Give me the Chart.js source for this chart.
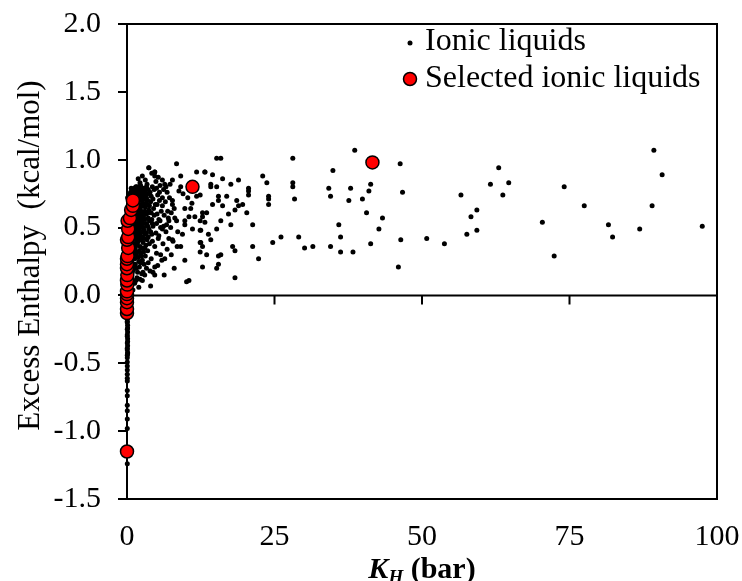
<!DOCTYPE html>
<html>
<head>
<meta charset="utf-8">
<title>Excess enthalpy vs Henry constant</title>
<script src="https://cdn.jsdelivr.net/npm/chart.js@4.4.1/dist/chart.umd.min.js"></script>
<style>
  html, body { margin: 0; padding: 0; background: #fff; }
  #wrap { width: 742px; height: 581px; }
</style>
</head>
<body>
<div id="wrap"><canvas id="grafico" width="742" height="581"></canvas></div>
<script>
// KH (bar) , excess enthalpy (kcal/mol) for every ionic liquid
const ionicLiquids = [
  // near KH = 0, negative branch
  [0.05, -0.02], [0.1, -0.06], [0.05, -0.09], [0.1, -0.12], [0.05, -0.15], [0.1, -0.17],
  [0.05, -0.2], [0.1, -0.22], [0.05, -0.25], [0.1, -0.27], [0.05, -0.3], [0.1, -0.32],
  [0.05, -0.35], [0.1, -0.37], [0.05, -0.4], [0.1, -0.43], [0.05, -0.46], [0.05, -0.49],
  [0.05, -0.55], [0.05, -0.61], [0.05, -0.63], [0.05, -0.7], [0.05, -0.74], [0.05, -0.81],
  [0.05, -0.85], [0.05, -0.91], [0.05, -0.98], [0.05, -1.24],
  [0.05, -0.04], [0.1, -0.08], [0.05, -0.11], [0.1, -0.14], [0.05, -0.19], [0.1, -0.24],
  [0.05, -0.29], [0.1, -0.34], [0.05, -0.39], [0.1, -0.42], [0.05, -0.44], [0.05, -0.52], [0.05, -0.58],
  [0.1, 0.72], [0.2, 0.6], [0.1, 0.5], [0.2, 0.38], [0.1, 0.25], [0.2, 0.18], [0.1, 0.1], [0.2, 0.04],
  // dense cluster, KH < 8 bar
  [1.9, 0.86], [2.6, 0.88], [3.1, 0.85], [3.7, 0.94], [4.2, 0.9], [4.7, 0.91], [5.3, 0.87],
  [2.2, 0.83], [3.4, 0.82], [4.9, 0.84], [1.5, 0.8],
  [0.6, 0.76], [0.9, 0.78], [1.2, 0.79], [1.4, 0.77], [1.7, 0.8], [2.0, 0.78], [2.3, 0.81],
  [2.5, 0.76], [2.8, 0.79], [3.0, 0.77], [3.3, 0.8], [3.6, 0.78], [3.9, 0.76], [4.3, 0.8],
  [4.6, 0.78], [5.0, 0.79], [5.6, 0.81], [6.2, 0.78], [0.4, 0.74], [1.1, 0.75], [1.9, 0.74],
  [2.7, 0.73], [3.5, 0.75], [4.1, 0.73], [5.2, 0.74], [6.8, 0.76],
  [0.7, 0.79], [1.0, 0.77], [1.3, 0.76], [1.6, 0.78], [1.8, 0.76], [2.1, 0.79], [2.4, 0.77],
  [2.9, 0.75], [3.2, 0.78], [0.9, 0.74], [1.5, 0.72], [2.0, 0.71], [2.5, 0.73], [3.0, 0.73],
  [3.3, 0.72], [0.6, 0.71], [1.2, 0.72], [1.7, 0.74], [2.2, 0.75], [2.8, 0.71],
  [0.3, 0.7], [0.5, 0.68], [0.8, 0.72], [1.0, 0.66], [1.3, 0.71], [1.6, 0.69], [1.8, 0.72],
  [2.1, 0.67], [2.4, 0.7], [2.6, 0.66], [2.9, 0.71], [3.2, 0.68], [3.5, 0.7], [3.8, 0.66],
  [4.0, 0.69], [4.4, 0.71], [4.8, 0.67], [5.5, 0.7], [6.0, 0.66], [6.5, 0.69], [7.2, 0.72],
  [0.7, 0.65], [1.5, 0.64], [2.2, 0.63], [3.0, 0.62], [4.5, 0.64], [5.8, 0.62],
  [0.6, 0.66], [0.9, 0.69], [1.1, 0.64], [1.4, 0.67], [1.7, 0.65], [1.9, 0.68], [2.3, 0.65],
  [2.7, 0.68], [3.1, 0.65], [3.4, 0.67], [0.5, 0.63], [0.8, 0.61], [1.3, 0.62], [1.6, 0.6],
  [2.0, 0.61], [2.4, 0.62], [2.9, 0.6], [3.7, 0.63], [4.1, 0.61], [1.0, 0.6],
  [0.4, 0.61], [0.6, 0.58], [0.9, 0.62], [1.1, 0.6], [1.4, 0.57], [1.7, 0.61], [1.9, 0.59],
  [2.3, 0.56], [2.5, 0.6], [2.8, 0.58], [3.3, 0.6], [3.6, 0.57], [3.9, 0.61], [4.2, 0.56],
  [4.6, 0.59], [5.1, 0.6], [5.4, 0.56], [6.3, 0.59], [7.0, 0.57], [7.5, 0.61], [1.2, 0.55],
  [2.0, 0.54], [2.7, 0.53], [3.4, 0.52], [5.0, 0.53],
  [0.7, 0.57], [1.0, 0.55], [1.3, 0.58], [1.5, 0.53], [1.8, 0.56], [2.2, 0.58], [2.5, 0.55],
  [3.0, 0.56], [3.2, 0.53], [3.8, 0.55], [0.6, 0.54], [0.9, 0.52], [1.4, 0.5], [1.9, 0.51],
  [2.3, 0.52], [2.8, 0.5], [3.5, 0.51], [4.3, 0.53],
  [0.5, 0.52], [0.8, 0.5], [1.0, 0.47], [1.3, 0.51], [1.6, 0.48], [1.8, 0.52], [2.1, 0.46],
  [2.4, 0.5], [2.9, 0.48], [3.1, 0.45], [3.7, 0.49], [4.0, 0.47], [4.4, 0.51], [4.9, 0.46],
  [5.7, 0.5], [6.6, 0.47], [7.4, 0.5], [0.7, 0.45], [1.5, 0.44], [2.6, 0.43],
  [0.6, 0.48], [0.9, 0.46], [1.1, 0.49], [1.4, 0.47], [1.7, 0.45], [2.0, 0.48], [2.3, 0.44],
  [2.6, 0.47], [3.3, 0.46], [3.6, 0.43], [4.2, 0.45], [0.8, 0.42], [1.1, 0.43], [1.9, 0.42],
  [2.4, 0.41], [2.9, 0.42], [1.6, 0.41],
  [0.4, 0.42], [0.9, 0.4], [1.2, 0.38], [1.4, 0.43], [1.7, 0.37], [2.0, 0.41], [2.2, 0.36],
  [2.7, 0.39], [3.0, 0.35], [3.4, 0.41], [3.8, 0.38], [4.3, 0.4], [4.7, 0.36], [5.3, 0.42],
  [6.1, 0.38], [7.8, 0.4], [8.5, 0.36],
  [0.7, 0.38], [1.0, 0.36], [1.4, 0.35], [1.8, 0.39], [2.1, 0.33], [2.5, 0.35], [2.8, 0.32],
  [3.2, 0.37], [1.2, 0.33], [0.5, 0.35],
  [0.6, 0.33], [1.0, 0.3], [1.3, 0.27], [1.6, 0.32], [1.9, 0.28], [2.3, 0.31], [2.6, 0.26],
  [3.1, 0.29], [3.5, 0.33], [4.1, 0.27], [5.0, 0.31], [5.9, 0.26], [0.8, 0.25],
  [1.6, 0.3], [2.4, 0.29], [2.0, 0.25], [1.2, 0.22], [1.6, 0.2], [2.9, 0.23], [3.6, 0.24],
  [0.7, 0.22], [1.1, 0.19], [1.4, 0.23], [1.8, 0.17], [2.1, 0.21], [2.5, 0.16], [3.3, 0.2],
  [3.9, 0.18], [0.5, 0.16], [0.9, 0.17],
  [0.9, 0.12], [1.3, 0.09], [1.7, 0.13], [2.0, 0.06], [1.0, 0.04], [0.6, 0.08], [2.6, 0.11],
  [2.2, 0.12], [1.5, 0.11],
  // 2 - 13 bar
  [8.4, 0.97], [3.7, 0.94], [4.7, 0.91], [4.7, 0.88], [9.1, 0.88], [11.8, 0.91], [13.2, 0.91],
  [6.0, 0.85], [6.4, 0.82], [7.7, 0.85], [9.1, 0.8], [8.8, 0.77], [11.8, 0.73],
  [7.7, 0.7], [7.7, 0.67], [8.0, 0.64], [9.8, 0.64], [10.8, 0.64], [10.5, 0.58], [9.8, 0.55],
  [9.8, 0.52], [11.5, 0.58], [12.8, 0.61], [8.1, 0.57], [8.4, 0.55], [6.7, 0.52], [6.0, 0.49],
  [11.1, 0.49], [12.5, 0.48], [7.1, 0.42], [7.7, 0.41], [9.1, 0.36], [12.5, 0.39], [12.8, 0.36],
  [5.7, 0.3], [6.4, 0.27], [9.8, 0.26], [4.7, 0.21], [4.4, 0.17], [4.7, 0.15], [2.7, 0.17],
  [3.0, 0.15], [10.5, 0.11], [10.1, 0.1], [4.0, 0.07], [2.3, 0.24],
  [5.5, 0.76], [6.6, 0.8], [7.3, 0.82], [6.0, 0.72], [5.1, 0.67], [6.9, 0.62], [5.6, 0.55],
  [6.2, 0.51], [7.1, 0.55], [8.6, 0.47], [9.4, 0.45], [5.4, 0.44], [6.8, 0.34], [7.5, 0.3],
  [5.2, 0.22], [8.0, 0.2], [6.3, 0.15], [10.3, 0.72], [11.0, 0.68], [9.5, 0.75],
  // 12 - 30 bar
  [15.2, 1.01], [15.9, 1.01], [13.2, 0.91], [14.5, 0.89], [16.2, 0.86], [14.2, 0.82], [14.2, 0.8],
  [15.2, 0.8], [17.6, 0.82], [18.9, 0.85], [12.4, 0.74], [15.5, 0.73], [15.5, 0.7], [16.9, 0.73],
  [14.5, 0.67], [16.2, 0.66], [18.6, 0.7], [18.9, 0.66], [19.6, 0.67], [18.3, 0.63], [17.2, 0.6],
  [20.3, 0.61], [20.6, 0.79], [20.6, 0.77], [20.6, 0.74], [23.0, 0.88], [23.7, 0.83], [24.0, 0.73],
  [24.0, 0.71], [24.0, 0.67], [28.1, 1.01], [28.1, 0.83], [28.1, 0.8], [28.4, 0.71],
  [13.5, 0.61], [12.8, 0.58], [12.4, 0.55], [13.2, 0.54], [15.9, 0.55], [17.6, 0.52], [21.3, 0.52],
  [15.2, 0.49], [12.4, 0.48], [13.8, 0.45], [12.4, 0.39], [14.2, 0.41], [26.1, 0.43], [24.7, 0.39],
  [29.1, 0.43], [30.1, 0.35], [31.5, 0.36], [21.3, 0.36], [17.9, 0.36], [18.3, 0.33], [15.9, 0.3],
  [15.5, 0.29], [13.5, 0.3], [12.4, 0.32], [22.3, 0.27], [15.5, 0.23], [15.2, 0.2], [12.8, 0.21],
  [18.3, 0.13],
  // 30 - 100 bar
  [38.6, 1.07], [34.9, 0.92], [46.3, 0.97], [34.2, 0.79], [37.9, 0.79], [41.3, 0.82], [41.0, 0.77],
  [34.5, 0.73], [37.6, 0.7], [39.9, 0.71], [46.7, 0.76], [40.6, 0.61], [43.3, 0.57], [35.9, 0.52],
  [42.7, 0.49], [36.2, 0.43], [34.5, 0.36], [36.2, 0.32], [38.3, 0.32], [41.3, 0.38], [46.4, 0.41],
  [46.0, 0.21], [50.8, 0.42], [53.8, 0.38], [56.6, 0.74], [57.6, 0.45], [59.3, 0.48], [58.3, 0.58],
  [59.3, 0.63], [61.6, 0.82], [63.0, 0.94], [64.7, 0.83], [63.7, 0.74],
  [74.1, 0.8], [77.5, 0.66], [70.4, 0.54], [72.4, 0.29], [81.6, 0.52], [82.3, 0.43], [86.9, 0.49],
  [89.0, 0.66], [89.3, 1.07], [90.7, 0.89], [97.5, 0.51]
];

// selected ionic liquids
const selectedLiquids = [
  [0, -1.15], [0, -0.13], [0, -0.1], [0, -0.05], [0, -0.02], [0, 0.01], [0, 0.03], [0.05, 0.08],
  [0, 0.11], [0.05, 0.15], [0, 0.2], [0, 0.23], [0, 0.27], [0.1, 0.29], [0.2, 0.35], [0, 0.41],
  [0.2, 0.43], [0.2, 0.49], [0.1, 0.55], [0.5, 0.57], [0.7, 0.63], [1.0, 0.66], [1.0, 0.7],
  [11.1, 0.8], [41.6, 0.98]
];

const xTicks = [0, 25, 50, 75, 100];
const yTicks = [-1.5, -1.0, -0.5, 0.0, 0.5, 1.0, 1.5, 2.0];
const legendLabels = ['Ionic liquids', 'Selected ionic liquids'];

const FONTE = '"Liberation Serif", "Times New Roman", serif';

function toPoints(lista) {
  return lista.map(p => ({ x: p[0], y: p[1] }));
}

// sem folga extra pelos rotulos: a area do grafico fica fixa
function semFolga(s) {
  s.paddingTop = 0;
  s.paddingBottom = 0;
  s.paddingLeft = 0;
  s.paddingRight = 0;
}

// moldura, eixo em y = 0 com marcas, titulos e legenda
const molduraPlugin = {
  id: 'moldura',
  beforeDatasetsDraw(chart) {
    const { ctx, chartArea: a, scales: { x, y } } = chart;
    ctx.save();
    ctx.strokeStyle = '#000';
    ctx.lineWidth = 2;
    ctx.beginPath();
    ctx.moveTo(a.left, a.top);
    ctx.lineTo(a.right, a.top);
    ctx.lineTo(a.right, a.bottom);
    ctx.stroke();

    const y0 = y.getPixelForValue(0);
    ctx.beginPath();
    ctx.moveTo(a.left, y0);
    ctx.lineTo(a.right, y0);
    xTicks.forEach(t => {
      const px = x.getPixelForValue(t);
      ctx.moveTo(px, y0);
      ctx.lineTo(px, y0 + 9);
    });
    ctx.stroke();
    ctx.restore();
  },
  afterDraw(chart) {
    const { ctx, chartArea: a } = chart;
    ctx.save();
    ctx.fillStyle = '#000';

    // titulo do eixo y
    ctx.save();
    ctx.translate(31, (a.top + a.bottom) / 2 - 6);
    ctx.rotate(-Math.PI / 2);
    ctx.font = '31px ' + FONTE;
    ctx.textAlign = 'center';
    ctx.textBaseline = 'middle';
    ctx.fillText('Excess Enthalpy  (kcal/mol)', 0, 0);
    ctx.restore();

    // titulo do eixo x: K com subscrito H
    const base = 578;
    const k = 'K', sub = 'H', resto = ' (bar)';
    ctx.font = 'italic bold 30px ' + FONTE;
    const wK = ctx.measureText(k).width;
    ctx.font = 'italic bold 19px ' + FONTE;
    const wSub = ctx.measureText(sub).width;
    ctx.font = 'bold 30px ' + FONTE;
    const wResto = ctx.measureText(resto).width;
    let xx = (a.left + a.right) / 2 - (wK + wSub + wResto) / 2;
    ctx.textBaseline = 'alphabetic';
    ctx.textAlign = 'left';
    ctx.font = 'italic bold 30px ' + FONTE;
    ctx.fillText(k, xx, base);
    xx += wK;
    ctx.font = 'italic bold 19px ' + FONTE;
    ctx.fillText(sub, xx, base + 5);
    xx += wSub;
    ctx.font = 'bold 30px ' + FONTE;
    ctx.fillText(resto, xx, base);

    // legenda
    ctx.font = '32px ' + FONTE;
    ctx.textBaseline = 'middle';
    ctx.fillText(legendLabels[0], 425, 42);
    ctx.fillText(legendLabels[1], 425, 79);
    ctx.beginPath();
    ctx.arc(410, 43, 2.5, 0, Math.PI * 2);
    ctx.fill();
    ctx.beginPath();
    ctx.arc(410, 79, 6.5, 0, Math.PI * 2);
    ctx.fillStyle = '#ff0000';
    ctx.fill();
    ctx.lineWidth = 1.5;
    ctx.strokeStyle = '#000';
    ctx.stroke();
    ctx.restore();
  }
};

const ctx = document.getElementById('grafico').getContext('2d');
const grafico = new Chart(ctx, {
  type: 'scatter',
  data: {
    datasets: [
      {
        label: legendLabels[1],
        data: toPoints(selectedLiquids),
        pointRadius: 6.5,
        pointBackgroundColor: '#ff0000',
        pointBorderColor: '#000',
        pointBorderWidth: 1.5,
        clip: false
      },
      {
        label: legendLabels[0],
        data: toPoints(ionicLiquids),
        pointRadius: 2.5,
        pointBackgroundColor: '#000',
        pointBorderColor: '#000',
        pointBorderWidth: 0,
        clip: false
      }
    ]
  },
  options: {
    responsive: false,
    animation: false,
    events: [],
    layout: { padding: { top: 24, right: 25, left: 0, bottom: 0 } },
    plugins: {
      legend: { display: false },
      tooltip: { enabled: false }
    },
    scales: {
      x: {
        type: 'linear',
        min: 0,
        max: 100,
        afterFit: s => { s.height = 82; semFolga(s); },
        afterBuildTicks: s => { s.ticks = xTicks.map(v => ({ value: v })); },
        ticks: { color: '#000', font: { family: FONTE, size: 30 }, padding: 12, maxRotation: 0 },
        grid: { display: false },
        border: { display: true, color: '#000', width: 2 }
      },
      y: {
        type: 'linear',
        min: -1.5,
        max: 2.0,
        afterFit: s => { s.width = 127; semFolga(s); },
        afterBuildTicks: s => { s.ticks = yTicks.map(v => ({ value: v })); },
        ticks: {
          color: '#000',
          font: { family: FONTE, size: 30 },
          padding: 17,
          callback: v => v.toFixed(1)
        },
        grid: { drawOnChartArea: false, drawTicks: true, tickLength: 9, color: '#000', lineWidth: 2 },
        border: { display: true, color: '#000', width: 2 }
      }
    }
  },
  plugins: [molduraPlugin]
});
</script>
</body>
</html>
